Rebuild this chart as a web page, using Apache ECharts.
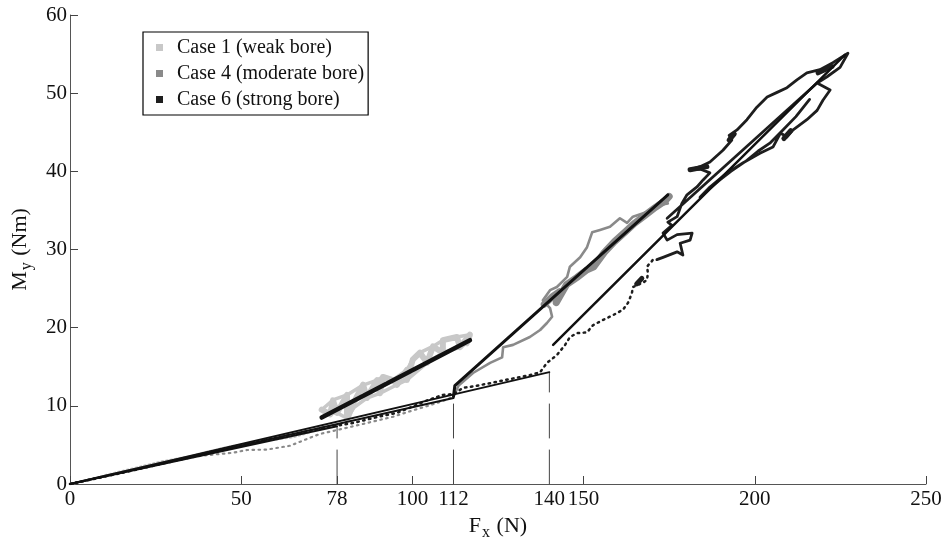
<!DOCTYPE html>
<html>
<head>
<meta charset="utf-8">
<script src="https://cdn.jsdelivr.net/npm/echarts@6/dist/echarts.min.js"></script>
<style>
  html, body { margin: 0; padding: 0; background: #fff; }
  #chart { width: 943px; height: 538px; }
</style>
</head>
<body>
<div id="chart"></div>
<script>
// Axis ticks and labels
const xLabelValues = [0, 50, 78, 100, 112, 140, 150, 200, 250];
const xTickValues = [0, 50, 78, 100, 150, 200, 250];
const legendNames = ['Case 1 (weak bore)', 'Case 4 (moderate bore)', 'Case 6 (strong bore)'];

// Case 1 (weak bore): early dotted record and the upper band
const case1Early = [[0,0],[6,0.6],[12,1.3],[19.6,2.1],[27,2.9],[34.2,3.45],[40,4.1],[45.9,4.7],[52,5.2],[58,5.6],[65.1,6.0],[70,6.6]];
const case1Band = [[73.5,9.5],[76,8.9],[76.8,10.7],[78,9.1],[80.9,11.4],[80.9,8.3],[83,10.5],[85.6,12.7],[86.7,11.0],[89.7,13.3],[90.5,11.6],[91.4,13.7],[94.3,13.3],[95.5,12.7],[98.4,14.6],[98.4,13.3],[100.1,15.9],[102.2,16.8],[104.3,15.5],[106,17.6],[108.9,16.8],[108.9,18.4],[113,18.8],[113.9,17.5],[116.8,19.1],[115.9,18.0]];
const case1Upper = [[73.5,9.5],[76.8,10.75],[80.9,11.4],[85.6,12.66],[89.7,13.3],[91.4,13.7],[94.3,13.3],[98.4,14.6],[100.1,15.9],[102.2,16.8],[106,17.6],[108.9,18.4],[113,18.8],[116.8,19.1]];
const case1Lower = [[76,9.0],[78,9.1],[80.9,8.4],[83,9.8],[86.7,11.0],[90.5,11.6],[95.5,12.7],[98.4,13.3],[104.3,15.5],[108.9,16.8],[113.9,17.5],[115.9,18.0]];

// Case 4 (moderate bore)
const case4Early = [[0,0],[8.8,0.9],[18,1.8],[28,2.8],[38,3.6],[47.6,4.0],[51.7,4.35],[57.5,4.4],[64.3,4.9],[70,5.9],[73,6.4],[80.9,7.2],[86.7,7.8],[94.3,8.6],[100,9.4],[106,10.2],[110,10.8],[112,11.2]];
const case4Trace = [[112,11.2],[113.5,12.6],[117.7,14.2],[122.7,15.5],[126.2,16.2],[126.5,17.5],[129.4,17.8],[134.3,18.8],[137.3,19.7],[139.3,20.6],[140.8,21.4],[140.2,22.5],[138.1,23.5],[140.2,24.8],[142.2,25.2],[145.2,26.5],[146.0,27.8],[149,29.0],[151,30.3],[152.5,32.2],[154.8,32.5],[157.7,32.9],[160.6,34.0],[162.7,33.4],[164.4,34.2],[168.5,34.8],[172.3,35.7],[174.6,35.9]];
const case4Dense = [[138.5,23.0],[141,24.0],[143,24.6],[142,23.2],[145,25.5],[148,26.4],[151,27.4],[153,27.8],[156,29.6],[159,31.0],[162,32.2],[165,33.4],[168,34.4],[171,35.4],[174,36.3],[175,36.8]];

// Case 6 (strong bore)
const case6Early = [[0,0],[8,0.75],[16,1.5],[25,2.4],[33,3.2],[42,4.1],[50,4.9],[58,5.7],[66,6.4],[74,7.2],[82.7,7.8],[90,8.6],[95.5,9.1],[100,9.9],[104.3,10.7],[108.9,11.4],[112,11.5],[114.8,12.3],[118,12.5],[122.7,12.9],[126,13.2],[130.5,13.6],[134,13.9],[137.3,14.3],[139.3,15.5],[142.2,16.5],[144.6,17.8],[146,18.8],[148.1,19.3],[151,19.4],[152.7,20.3],[155.7,21.0],[158.6,21.6],[161.5,22.3],[163,23.2],[164.1,24.4],[164.4,25.2],[166,25.5],[167.5,25.8],[168.5,26.1],[168.8,27.0],[168.5,27.8],[170.3,28.7],[171.4,28.7]];
const case6Upper = [[171.4,28.7],[173.2,29.0],[177.3,29.7],[179.0,29.3],[178.2,30.8],[181.1,31.2],[181.7,32.1],[177.3,31.9],[174.4,31.2],[173.2,32.1],[175.8,33.1],[174.6,33.5],[177.3,34.2],[178.7,35.9],[180.2,37.0],[183.1,38.0],[184.9,38.9],[186.9,39.8],[184,40.3],[181.1,40.2],[184,40.6],[186.9,41.2],[190.7,42.7],[193.3,44.0],[192.5,44.6],[194.8,45.3],[197.7,46.6],[200.6,48.2],[203.6,49.5],[206.5,50.1],[209.4,50.7],[212.3,51.7],[215.2,52.6],[219,53.0],[222.8,53.9],[227.2,55.1],[224.9,53.3],[221.1,52.1],[218.2,51.3],[222.0,50.4],[219.9,49.1],[218.2,47.8],[215.2,46.6],[211.2,45.3],[209.4,44.4],[207.5,44.9],[205.3,43.1],[201.5,42.3],[196.6,41.1],[191.9,39.8],[186.9,38.0],[184.0,36.7],null,[174.4,34.0],[218.2,51.3],null,[186,37.5],[189.8,38.9],[193,40.0],[197.7,41.4],[201,42.6],[204.4,43.6],[208,45.2],[212,47.0],[216,49.2]];
const case6Blobs = [[181.1,40.2],[186.0,40.6],null,[192.5,44.0],[194.0,44.8],null,[208.5,44.2],[210.5,45.2],null,[165.5,25.6],[167.0,26.3],null,[218.5,52.6],[222.5,53.4]];

// Linear fits
const fitLow78 = [[0,0],[78,7.4]];
const fitLow112 = [[0,0],[112,11.0]];
const fitLow140 = [[0,0],[140,14.3]];
const fitCase1 = [[73.5,8.5],[116.8,18.4]];
const fitCase4 = [[112,11.2],[112.4,12.6],[174.6,37.0]];
const fitCase6 = [[141.1,17.8],[226.3,54.9]];

// Vertical markers at the transition forces
const markers = [[78,7.3],[112,11.0],[140,14.3]];

const C1 = '#c8c8c8', C4 = '#8a8a8a', C6 = '#1e1e1e';
const serif = 'Liberation Serif';

function path(name, data, color, width, type, z) {
  return {
    type: 'line', name: name, data: data, color: color,
    showSymbol: false, symbol: 'none', connectNulls: false, silent: true,
    lineStyle: { color: color, width: width, type: type || 'solid', cap: 'round', join: 'round' },
    itemStyle: { color: color }, z: z || 2, animation: false
  };
}

const series = [
  path(legendNames[0], case1Early, C1, 2.5, [1.5, 3], 2),
  path(legendNames[0], case1Band, C1, 6, 'solid', 2),
  path(legendNames[0], case1Upper, C1, 3.5, 'solid', 2),
  path(legendNames[0], case1Lower, C1, 3.5, 'solid', 2),
  path(legendNames[1], case4Early, C4, 2.2, [1.5, 4.5], 3),
  path(legendNames[1], case4Trace, C4, 2.6, 'solid', 3),
  path(legendNames[1], case4Dense, C4, 7, 'solid', 3),
  path(legendNames[2], case6Early, C6, 2.5, [1.5, 4.5], 4),
  path(legendNames[2], case6Upper, C6, 2.8, 'solid', 4),
  path(legendNames[2], case6Blobs, C6, 5, 'solid', 4),
  path(null, fitLow78, '#111', 2, 'solid', 5),
  path(null, fitLow112, '#111', 2, 'solid', 5),
  path(null, fitLow140, '#111', 1.8, 'solid', 5),
  path(null, fitCase1, '#111', 4.5, 'solid', 5),
  path(null, fitCase4, '#111', 3, 'solid', 5),
  path(null, fitCase6, '#111', 2.5, 'solid', 5)
];
markers.forEach(function (m) {
  series.push(path(null, [[m[0], 0], [m[0], m[1]]], '#444', 1, [34, 12], 1));
});

const chart = echarts.init(document.getElementById('chart'), null, { renderer: 'canvas' });
chart.setOption({
  animation: false,
  backgroundColor: '#fff',
  textStyle: { fontFamily: serif },
  grid: { left: 70, right: 17, top: 15, bottom: 54, containLabel: false, outerBoundsMode: 'none' },
  legend: {
    data: legendNames,
    orient: 'vertical', left: 143, top: 32,
    icon: 'rect', itemWidth: 7, itemHeight: 7, itemGap: 5,
    padding: [5, 4, 5, 13],
    borderColor: '#000', borderWidth: 1.2,
    textStyle: { fontFamily: serif, fontSize: 20, color: '#111', padding: [0, 0, 0, 9], lineHeight: 21 },
    selectedMode: false
  },
  xAxis: {
    type: 'value', min: 0, max: 250,
    name: 'F{sub|x} (N)', nameLocation: 'middle', nameGap: 24,
    nameTextStyle: {
      fontFamily: serif, fontSize: 22, color: '#111',
      rich: { sub: { fontFamily: serif, fontSize: 16, color: '#111', padding: [14, 1, 0, 1] } }
    },
    axisLine: { show: true, lineStyle: { color: '#555', width: 1 } },
    axisTick: { show: true, inside: true, length: 8, customValues: xTickValues, lineStyle: { color: '#444' } },
    axisLabel: { customValues: xLabelValues, fontFamily: serif, fontSize: 21, color: '#111', margin: 5 },
    splitLine: { show: false }
  },
  yAxis: {
    type: 'value', min: 0, max: 60, interval: 10,
    name: 'M{sub|y} (Nm)', nameLocation: 'middle', nameGap: 34,
    nameTextStyle: {
      fontFamily: serif, fontSize: 22, color: '#111',
      rich: { sub: { fontFamily: serif, fontSize: 16, color: '#111', padding: [14, 1, 0, 1] } }
    },
    axisLine: { show: true, lineStyle: { color: '#555', width: 1 } },
    axisTick: { show: true, inside: true, length: 8, lineStyle: { color: '#444' } },
    axisLabel: { fontFamily: serif, fontSize: 21, color: '#111', margin: 3 },
    splitLine: { show: false }
  },
  series: series
});
</script>
</body>
</html>
